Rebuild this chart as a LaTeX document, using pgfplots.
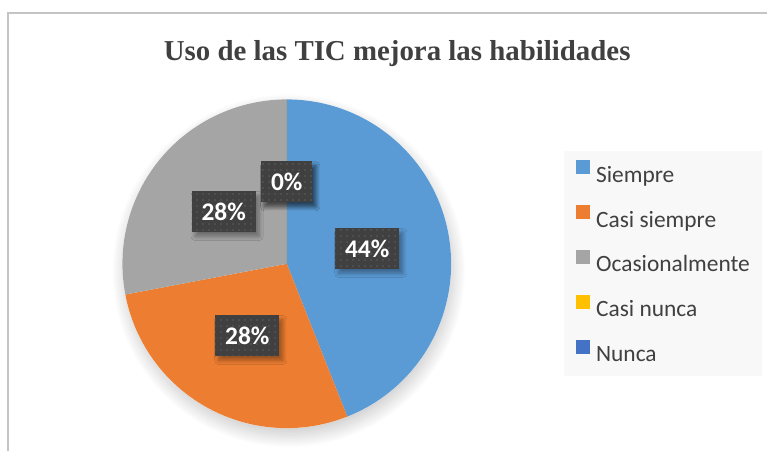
\documentclass[border=0pt]{standalone}
\usepackage{pgfplots}
\pgfplotsset{compat=1.18}
\usepackage{pgfplotstable}
\usepackage{fontspec}
\setmainfont{Liberation Serif}
\newfontfamily\calibri{Carlito}
\usetikzlibrary{patterns.meta,shadows.blur}
\definecolor{cA}{HTML}{5B9BD5}
\definecolor{cB}{HTML}{ED7D31}
\definecolor{cC}{HTML}{A5A5A5}
\definecolor{cD}{HTML}{FFC000}
\definecolor{cE}{HTML}{4472C4}
\definecolor{legbg}{HTML}{F8F8F8}
\definecolor{legtext}{HTML}{404040}
\definecolor{titlegray}{HTML}{404040}
\definecolor{framegray}{HTML}{C4C4C4}
\definecolor{boxbg}{HTML}{404040}
\definecolor{dotgray}{HTML}{5E5E5E}

\pgfplotstableread[col sep=comma]{
cat,value
Siempre,44
Casi siempre,28
Ocasionalmente,28
Casi nunca,0
Nunca,0
}\piedata

\newcommand\getv[2]{\pgfplotstablegetelem{#1}{value}\of\piedata\let#2\pgfplotsretval}
\getv{0}\vA \getv{1}\vB \getv{2}\vC \getv{3}\vD \getv{4}\vE

\pgfmathsetmacro\sA{90}
\pgfmathsetmacro\eA{\sA-3.6*\vA}\pgfmathsetmacro\mA{(\sA+\eA)/2}
\pgfmathsetmacro\eB{\eA-3.6*\vB}\pgfmathsetmacro\mB{(\eA+\eB)/2}
\pgfmathsetmacro\eC{\eB-3.6*\vC}\pgfmathsetmacro\mC{(\eB+\eC)/2}
\pgfmathsetmacro\eD{\eC-3.6*\vD}\pgfmathsetmacro\mD{(\eC+\eD)/2}
\pgfmathsetmacro\eE{\eD-3.6*\vE}\pgfmathsetmacro\mE{(\eD+\eE)/2}

\newcommand\slice[3]{\fill[#3] (axis cs:287,187) -- ++(#1:164.5bp) arc[start angle=#1, end angle=#2, radius=164.5bp] -- cycle;}
\tikzset{lab/.style={fill=boxbg, text=white, font=\calibri\bfseries\fontsize{25.5}{30}\selectfont,
  inner xsep=10bp, inner ysep=0pt, minimum height=41bp,
  blur shadow={shadow xshift=3.5bp, shadow yshift=-4.5bp, shadow blur radius=4bp, shadow opacity=35, shadow blur steps=10},
  postaction={pattern={Dots[distance=6bp, radius=0.9bp]}, pattern color=dotgray}}}
\newcommand\plabel[2]{\path (axis cs:287,187) ++(#1:82bp) node[lab] {#2\%};}

\begin{document}
\begin{tikzpicture}
\begin{axis}[scale only axis, width=768bp, height=451bp,
  xmin=0, xmax=768, ymin=0, ymax=451, hide axis, clip=false,
  legend cell align=left,
  legend style={at={(0.734375,0.665188)}, anchor=north west, fill=legbg, draw=none,
    inner xsep=12bp, inner ysep=0pt, column sep=7bp, row sep=0pt,
    font=\calibri\fontsize{23.5}{28}\selectfont, text=legtext,
    nodes={inner sep=0pt, text height=31bp, text depth=14bp}}]
\path (axis cs:0,0) rectangle (axis cs:768,451);
\draw[framegray, line width=1.3bp] (axis cs:8,0) -- (axis cs:8,438) -- (axis cs:768,438);
\node[font=\bfseries\fontsize{29}{34}\selectfont, text=titlegray, anchor=base] at (axis cs:397.5,390) {Uso de las TIC mejora las habilidades};
\path[fill=white, blur shadow={shadow xshift=2bp, shadow yshift=-7bp, shadow blur radius=13bp, shadow opacity=22, shadow blur steps=30}] (axis cs:287,187) circle[radius=164.5bp];
\slice{\sA}{\eA}{cA}
\slice{\eA}{\eB}{cB}
\slice{\eB}{\eC}{cC}
\slice{\eC}{\eD}{cD}
\slice{\eD}{\eE}{cE}
\plabel{\mA}{\vA}
\plabel{\mB}{\vB}
\plabel{\mC}{\vC}
\plabel{\mD}{\vD}
\plabel{\mE}{\vE}
\addlegendimage{legend image code/.code={\fill[cA] (0bp,0bp) rectangle (13bp,13bp);}}
\addlegendimage{legend image code/.code={\fill[cB] (0bp,0bp) rectangle (13bp,13bp);}}
\addlegendimage{legend image code/.code={\fill[cC] (0bp,0bp) rectangle (13bp,13bp);}}
\addlegendimage{legend image code/.code={\fill[cD] (0bp,0bp) rectangle (13bp,13bp);}}
\addlegendimage{legend image code/.code={\fill[cE] (0bp,0bp) rectangle (13bp,13bp);}}
\legend{Siempre, Casi siempre, Ocasionalmente, Casi nunca, Nunca}
\end{axis}
\end{tikzpicture}
\end{document}
